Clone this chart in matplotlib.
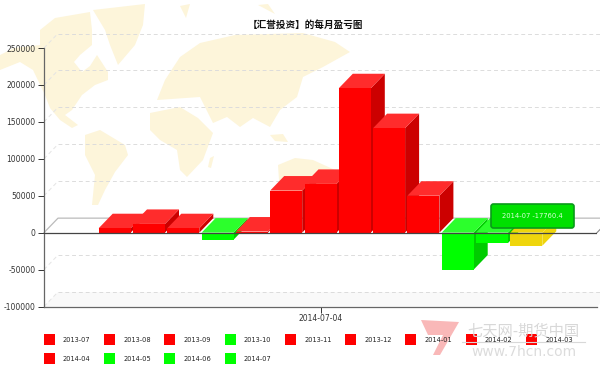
import matplotlib
matplotlib.use("Agg")

import matplotlib.pyplot as plt
from matplotlib.patches import Polygon, Rectangle, FancyBboxPatch

months = ["2013-07", "2013-08", "2013-09", "2013-10", "2013-11", "2013-12", "2014-01",
          "2014-02", "2014-03", "2014-04", "2014-05", "2014-06", "2014-07"]
profit = [6000, 11800, 6000, -9500, 1500, 57000, 66000,
          195500, 141500, 50000, -50000, -14000, -17760.4]
y_ticks = [-100000, -50000, 0, 50000, 100000, 150000, 200000, 250000]
x_label = "2014-07-04"
title = "【汇誉投资】的每月盈亏图"
highlight = 12

CJK = ["Noto Sans CJK SC", "DejaVu Sans"]
W, H = 600, 373

fig = plt.figure(figsize=(W / 100, H / 100), dpi=100, facecolor="white")

# ── background map, pixel coordinates ─────────────────────────────────────────
bg = fig.add_axes([0, 0, 1, 1], zorder=0)
bg.set_xlim(0, W)
bg.set_ylim(H, 0)
bg.axis("off")
land = [
    [(0, 55), (14, 48), (40, 45), (40, 30), (55, 18), (90, 12), (92, 30), (92, 45), (80, 55), (74, 62),
     (82, 72), (90, 66), (97, 55), (108, 72), (108, 80), (95, 85), (82, 95), (72, 110), (65, 115),
     (78, 125), (72, 128), (60, 120), (50, 108), (45, 95), (33, 70), (20, 62), (0, 70)],
    [(93, 10), (145, 4), (143, 25), (135, 45), (118, 65), (110, 45), (105, 30)],
    [(85, 135), (100, 130), (125, 145), (128, 155), (115, 172), (105, 190), (98, 205), (92, 205), (95, 175), (85, 155)],
    [(150, 113), (180, 107), (198, 118), (213, 133), (203, 160), (187, 177), (180, 170), (177, 150),
     (160, 140), (150, 130)],
    [(157, 100), (165, 80), (180, 57), (200, 43), (235, 35), (303, 33), (335, 42), (350, 52), (323, 67),
     (303, 77), (297, 97), (280, 110), (270, 127), (253, 118), (240, 127), (227, 117), (213, 123), (200, 97)],
    [(278, 165), (295, 158), (313, 160), (335, 170), (340, 190), (310, 205), (280, 195)],
    [(270, 135), (283, 134), (288, 142), (275, 141)],
    [(210, 158), (214, 156), (211, 168), (208, 167)],
    [(180, 6), (190, 4), (186, 18)],
    [(258, 5), (268, 4), (275, 14)],
]
for pts in land:
    bg.add_patch(Polygon(pts, closed=True, facecolor="#fdf5da", edgecolor="none"))

# ── chart axes ────────────────────────────────────────────────────────────────
left, right, top, bottom = 44, 597, 48, 306.5
ax = fig.add_axes([left / W, 1 - bottom / H, (right - left) / W, (bottom - top) / H], zorder=1)
ax.patch.set_alpha(0)

step = 34.3   # pixels per bar slot
x0 = 6 - (320.5 - left) / step
x1 = 6 + (right - 320.5) / step
ax.set_xlim(x0, x1)
ax.set_ylim(y_ticks[0], y_ticks[-1])
dx = 14 / step                                    # depth of the 3D box
dy = 14.5 * (y_ticks[-1] - y_ticks[0]) / (bottom - top)
bar_w = 32 / step

for side in ("top", "right"):
    ax.spines[side].set_visible(False)
for side in ("left", "bottom"):
    ax.spines[side].set_color("#666666")
    ax.spines[side].set_linewidth(0.9)

ax.set_yticks(y_ticks)
ax.set_yticklabels([str(v) for v in y_ticks])
ax.set_xticks([6])
ax.set_xticklabels([x_label])
ax.tick_params(axis="both", labelsize=5.5, colors="#333333", length=4, width=0.7, pad=2)
ax.tick_params(axis="x", pad=1.5)

# floor and back wall
ax.add_patch(Polygon([(x0, y_ticks[0]), (x0 + dx, y_ticks[0] + dy), (x1 + dx, y_ticks[0] + dy), (x1, y_ticks[0])],
                     facecolor="#f9f9f9", edgecolor="none", clip_on=False, zorder=0.5))
for v in y_ticks:
    if v == 0:
        continue
    ax.plot([x0 + dx, x1 + dx], [v + dy, v + dy], color="#dcdcdc", lw=0.7, ls=(0, (4, 3)), clip_on=False, zorder=1)
    ax.plot([x0, x0 + dx], [v, v + dy], color="#e4e4e4", lw=0.7, ls=(0, (4, 3)), clip_on=False, zorder=1)

# zero plane
ax.plot([x0, x0 + dx, x1 + dx], [0, dy, dy], color="#bbbbbb", lw=0.9, clip_on=False, zorder=1.2)
ax.plot([x1, x1 + dx], [0, dy], color="#888888", lw=0.8, clip_on=False, zorder=1.2)


def draw_bar(i, value, front, upper, flank, z):
    a, b = i - bar_w / 2, i + bar_w / 2
    hi, lo = max(value, 0), min(value, 0)
    ax.add_patch(Polygon([(b, lo), (b + dx, lo + dy), (b + dx, hi + dy), (b, hi)],
                         facecolor=flank, edgecolor="none", zorder=z, clip_on=False))
    ax.add_patch(Polygon([(a, hi), (a + dx, hi + dy), (b + dx, hi + dy), (b, hi)],
                         facecolor=upper, edgecolor="none", zorder=z, clip_on=False))
    ax.add_patch(Rectangle((a, lo), bar_w, hi - lo, facecolor=front, edgecolor="none", zorder=z))


for i, value in enumerate(profit):
    z = 2 + i * 0.01
    if i == highlight:
        draw_bar(i, value, "#efd50c", "#efd50c", "#efd50c", z)
    elif value >= 0:
        draw_bar(i, value, "#ff0000", "#ff2c2c", "#cc0000", z)
    else:
        draw_bar(i, value, "#00ff00", "#2cff2c", "#00cc00", z)

ax.axhline(0, color="#444444", lw=0.9, zorder=3)

# ── overlay: title, legend, tooltip, watermark ────────────────────────────────
ov = fig.add_axes([0, 0, 1, 1], zorder=2)
ov.set_xlim(0, W)
ov.set_ylim(H, 0)
ov.axis("off")

ov.text(305, 25, title, ha="center", va="center", fontsize=6.9, fontweight="bold", color="#111111", family=CJK)

# watermark
ov.add_patch(Polygon([(421, 320), (459, 322), (440, 355), (433, 355), (443, 335), (428, 335)],
                     facecolor="#f9b8b8", edgecolor="none"))
ov.text(523, 331, "七天网-期货中国", ha="center", va="center", fontsize=11, color="#d8d8d8", family=CJK)
ov.plot([462, 585], [342, 342], color="#d8d8d8", lw=0.8)
ov.text(524, 352, "www.7hcn.com", ha="center", va="center", fontsize=10, color="#dcdcdc")

# legend
col_x = [43.5, 104, 164, 224.5, 285, 345, 405, 465.5, 526]
for i, (name, value) in enumerate(zip(months, profit)):
    col, row = i % 9, i // 9
    yc = 339.5 + row * 18.8
    color = "#ff0000" if value >= 0 else "#00ff00"
    ov.add_patch(Rectangle((col_x[col], yc - 5.5), 11, 11, facecolor=color, edgecolor="none"))
    ov.text(col_x[col] + 19.5, yc + 0.3, name, ha="left", va="center", fontsize=4.8, color="#222222")

# tooltip
ov.add_patch(FancyBboxPatch((491, 204), 83, 24, boxstyle="round,pad=0,rounding_size=2.5",
                            facecolor="#00e000", edgecolor="#0a9a1a", lw=1.2))
ov.text(532.5, 216, f"{months[highlight]} {profit[highlight]}", ha="center", va="center",
        fontsize=4.9, color="#d8ffd8")

fig.savefig("out.png", dpi=100)
